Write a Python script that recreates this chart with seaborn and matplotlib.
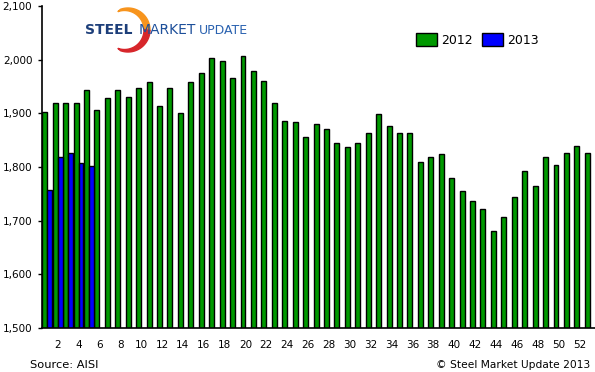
# Steel Market Update - weekly raw steel production, 2012 vs 2013
import numpy as np
import pandas as pd
import seaborn as sns
import matplotlib.pyplot as plt
from matplotlib.patches import Polygon
from matplotlib.transforms import IdentityTransform

# data (thousand tons per week)
weeks = list(range(1, 54))
prod_2012 = [1903, 1920, 1920, 1920, 1944, 1907, 1929, 1943, 1931, 1948,
             1959, 1914, 1948, 1900, 1959, 1976, 2004, 1998, 1965, 2006,
             1978, 1961, 1920, 1886, 1883, 1855, 1881, 1870, 1844, 1838,
             1845, 1864, 1899, 1877, 1864, 1864, 1810, 1818, 1825, 1780,
             1756, 1736, 1721, 1680, 1706, 1745, 1792, 1764, 1818, 1803,
             1827, 1840, 1827]
prod_2013 = [1757, 1819, 1826, 1807, 1801]
years = ['2012', '2013']
colors = ['#009900', '#0000ff']

# long form table for seaborn
df = pd.DataFrame({
    'week': [str(w) for w in weeks] * 2,
    'year': ['2012'] * len(weeks) + ['2013'] * len(weeks),
    'value': prod_2012 + prod_2013 + [np.nan] * (len(weeks) - len(prod_2013)),
})

W, H = 595, 372
fig = plt.figure(figsize=(W / 100, H / 100), dpi=100)
ax = fig.add_axes([42 / W, 1 - 328 / H, 553 / W, 322 / H])

sns.barplot(data=df, x='week', y='value', hue='year', hue_order=years,
            palette=colors, saturation=1, width=0.95, edgecolor='black',
            linewidth=1, errorbar=None, ax=ax)

ax.set_ylim(1500, 2100)
yt = list(range(1500, 2101, 100))
ax.set_yticks(yt)
ax.set_yticklabels([f'{v:,}' for v in yt], fontsize=7.5)
xt = list(range(1, 53, 2))
ax.set_xticks(xt)
ax.set_xticklabels([str(weeks[i]) for i in xt], fontsize=7.5)
ax.tick_params(axis='x', length=0, pad=9)
ax.tick_params(axis='y', length=3, width=1, pad=4)
ax.set_xlabel('')
ax.set_ylabel('')
for s in ['top', 'right']:
    ax.spines[s].set_visible(False)
ax.spines['left'].set_linewidth(1.2)
ax.spines['bottom'].set_linewidth(1.2)

# legend
handles, labels = ax.get_legend_handles_labels()
ax.legend(handles, labels, loc='upper left', ncol=2, frameon=False,
          bbox_to_anchor=(416 / W, 1 - 33 / H), bbox_transform=fig.transFigure,
          fontsize=9, handlelength=1.7, handleheight=1.2, handletextpad=0.35,
          columnspacing=0.7, borderaxespad=0, borderpad=0)

# logo: crescent behind the text (display pixel coords, y from bottom)
cx, cy = 128, H - 30
t = np.radians(np.linspace(110, -110, 80))
outer = np.c_[cx + 22 * np.cos(t), cy + 22 * np.sin(t)]
inner = np.c_[cx - 3.5 + 19.5 * np.cos(t[::-1]), cy + 19.5 * np.sin(t[::-1])]
half = len(t) // 2
top = np.vstack([outer[:half + 1], inner[-half - 1:]])
bot = np.vstack([outer[half:], inner[:half + 1]])
fig.patches.append(Polygon(top, closed=True, color='#f7941d', transform=IdentityTransform(), figure=fig))
fig.patches.append(Polygon(bot, closed=True, color='#d7262b', transform=IdentityTransform(), figure=fig))
fig.text(85 / W, 1 - 30 / H, 'STEEL', fontsize=10, fontweight='bold', color='#1d3f7a',
         va='center', ha='left')
fig.text(139 / W, 1 - 30 / H, 'MARKET', fontsize=10, color='#1d4f9a',
         va='center', ha='left')
fig.text(199 / W, 1 - 30 / H, 'UPDATE', fontsize=9, color='#2a62b0',
         va='center', ha='left')

# footer
fig.text(30 / W, 1 - 365 / H, 'Source: AISI', fontsize=8.2, va='center', ha='left')
fig.text(590 / W, 1 - 365 / H, '\u00a9 Steel Market Update 2013', fontsize=7.7,
         va='center', ha='right')

fig.savefig('out.png', dpi=100)
